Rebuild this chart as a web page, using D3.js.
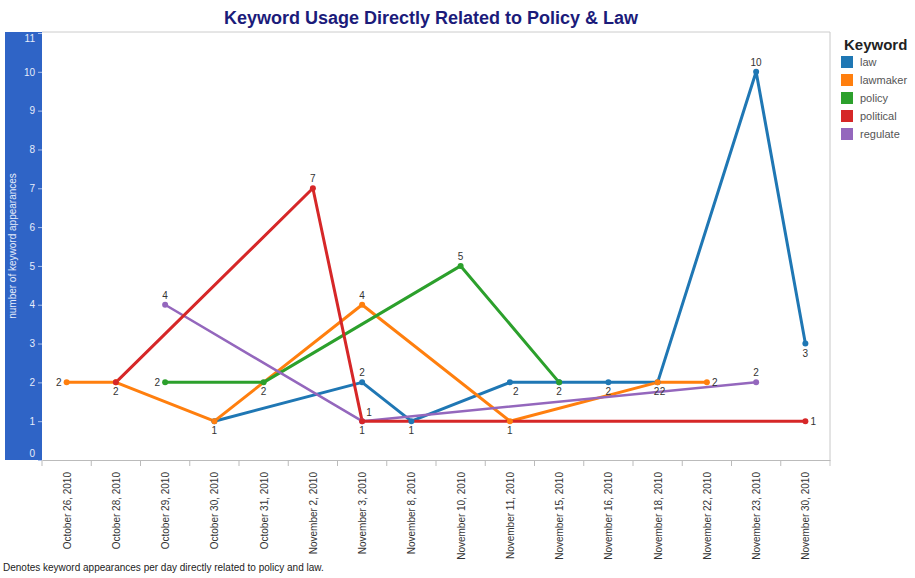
<!DOCTYPE html>
<html>
<head>
<meta charset="utf-8">
<script src="https://cdn.jsdelivr.net/npm/d3@7"></script>
<style>
  body { margin: 0; background: #fff; }
  svg { display: block; font-family: "Liberation Sans", Arial, sans-serif; }
</style>
</head>
<body>
<svg id="chart" width="915" height="578"></svg>
<script>
const categories = ["October 26, 2010","October 28, 2010","October 29, 2010","October 30, 2010","October 31, 2010","November 2, 2010","November 3, 2010","November 8, 2010","November 10, 2010","November 11, 2010","November 15, 2010","November 16, 2010","November 18, 2010","November 22, 2010","November 23, 2010","November 30, 2010"];
const keywords = ["law","lawmaker","policy","political","regulate"];
const colors = ["#1f77b4","#ff7f0e","#2ca02c","#d62728","#9467bd"];
const yTicks = [0,1,2,3,4,5,6,7,8,9,10,11];

// values per keyword: [category, value]
const lawValues = [["October 30, 2010",1],["November 3, 2010",2],["November 8, 2010",1],["November 11, 2010",2],["November 15, 2010",2],["November 16, 2010",2],["November 18, 2010",2],["November 23, 2010",10],["November 30, 2010",3]];
const lawmakerValues = [["October 26, 2010",2],["October 28, 2010",2],["October 30, 2010",1],["November 3, 2010",4],["November 11, 2010",1],["November 18, 2010",2],["November 22, 2010",2]];
const policyValues = [["October 29, 2010",2],["October 31, 2010",2],["November 10, 2010",5],["November 15, 2010",2]];
const politicalValues = [["October 28, 2010",2],["November 2, 2010",7],["November 3, 2010",1],["November 30, 2010",1]];
const regulateValues = [["October 29, 2010",4],["November 3, 2010",1],["November 23, 2010",2]];

const seriesValues = [lawValues, lawmakerValues, policyValues, politicalValues, regulateValues];

// label placement (rendering config): [keywordIndex, category, placement]
const labelSpec = [
  [1,"October 26, 2010","left"],
  [1,"October 28, 2010","below"],
  [2,"October 29, 2010","left"],
  [4,"October 29, 2010","above"],
  [0,"October 30, 2010","below"],
  [2,"October 31, 2010","below"],
  [3,"November 2, 2010","above"],
  [0,"November 3, 2010","above"],
  [1,"November 3, 2010","above"],
  [3,"November 3, 2010","below"],
  [4,"November 3, 2010","aboveright"],
  [0,"November 8, 2010","below"],
  [2,"November 10, 2010","above"],
  [0,"November 11, 2010","belowright"],
  [1,"November 11, 2010","below"],
  [2,"November 15, 2010","below"],
  [0,"November 16, 2010","below"],
  [0,"November 18, 2010","belowleftnear"],
  [1,"November 18, 2010","belowrightnear"],
  [1,"November 22, 2010","right"],
  [0,"November 23, 2010","above"],
  [4,"November 23, 2010","above"],
  [0,"November 30, 2010","below"],
  [3,"November 30, 2010","right"]
];

const svg = d3.select("#chart");
const L = 42, R = 830, T = 32, B = 460;

const x = d3.scaleBand().domain(categories).range([L, R]).padding(0);
const y = d3.scaleLinear().domain([0, 11]).range([B, 33]);
const cx = c => x(c) + x.bandwidth() / 2;

// Title
svg.append("text").attr("x", 431).attr("y", 24).attr("text-anchor", "middle")
  .attr("font-size", 18).attr("font-weight", "bold").attr("fill", "#1b1b7a")
  .text("Keyword Usage Directly Related to Policy & Law");

// blue y panel
svg.append("rect").attr("x", 5).attr("y", T).attr("width", L - 5).attr("height", B - T).attr("fill", "#2f64c6");

// plot borders
svg.append("line").attr("x1", L).attr("x2", R).attr("y1", T).attr("y2", T).attr("stroke", "#cccccc");
svg.append("line").attr("x1", R).attr("x2", R).attr("y1", T).attr("y2", B + 6).attr("stroke", "#c8c8c8");

// y axis
const yAxis = d3.axisLeft(y).tickValues(yTicks).tickSize(4).tickPadding(3);
const gy = svg.append("g").attr("transform", `translate(${L},0)`).call(yAxis);
gy.select(".domain").remove();
gy.selectAll(".tick line").attr("stroke", "#a9c0ee");
gy.selectAll(".tick text").attr("fill", "#e6ecfa").attr("font-size", 10)
  .attr("font-family", "Liberation Sans, Arial, sans-serif")
  .attr("transform", d => {
    const py = y(d);
    const cl = Math.max(38, Math.min(453, py));
    return `translate(0,${cl - py})`;
  });

svg.append("text").attr("transform", `translate(16,${(T + B) / 2}) rotate(-90)`)
  .attr("text-anchor", "middle").attr("font-size", 10).attr("fill", "#e6ecfa")
  .text("number of keyword appearances");

// x axis
const xAxis = d3.axisBottom(x).tickSize(0).tickPadding(0);
const gx = svg.append("g").attr("transform", `translate(0,${B})`).call(xAxis);
gx.select(".domain").attr("stroke", "#bbbbbb");
gx.selectAll(".tick text").attr("fill", "#333").attr("font-size", 10)
  .attr("font-family", "Liberation Sans, Arial, sans-serif")
  .attr("text-anchor", "end").attr("dy", null)
  .attr("transform", "translate(4,12) rotate(-90)").attr("y", 0).attr("x", 0);
// band boundary ticks
svg.append("g").selectAll("line").data(categories).join("line")
  .attr("x1", d => x(d)).attr("x2", d => x(d)).attr("y1", B).attr("y2", B + 6)
  .attr("stroke", "#bbbbbb");

// lines
const line = d3.line().x(d => cx(d[0])).y(d => y(d[1]));
const order = [0, 1, 2, 4, 3];
order.forEach(i => {
  svg.append("path").datum(seriesValues[i]).attr("d", line)
    .attr("fill", "none").attr("stroke", colors[i])
    .attr("stroke-width", i === 4 ? 2.5 : 3).attr("stroke-linejoin", "round");
});
order.forEach(i => {
  svg.append("g").selectAll("circle").data(seriesValues[i]).join("circle")
    .attr("cx", d => cx(d[0])).attr("cy", d => y(d[1])).attr("r", 3)
    .attr("fill", colors[i]);
});

// labels
const off = {
  above: [0, -6, "middle"], below: [0, 13, "middle"], left: [-5, 4, "end"], right: [5, 4, "start"],
  aboveright: [7, -5, "middle"], belowright: [6, 13, "middle"],
  belowleftnear: [-1, 13, "middle"], belowrightnear: [5, 13, "middle"]
};
labelSpec.forEach(([i, c, p]) => {
  const v = seriesValues[i].find(d => d[0] === c)[1];
  const o = off[p];
  svg.append("text").attr("x", cx(c) + o[0]).attr("y", y(v) + o[1])
    .attr("text-anchor", o[2]).attr("font-size", 10).attr("fill", "#333").text(v);
});

// legend
svg.append("text").attr("x", 844).attr("y", 50).attr("font-size", 15).attr("font-weight", "bold")
  .attr("fill", "#222").text("Keyword");
const lg = svg.append("g").selectAll("g").data(keywords).join("g")
  .attr("transform", (d, i) => `translate(841,${56 + i * 18})`);
lg.append("rect").attr("width", 12).attr("height", 12).attr("fill", (d, i) => colors[i]);
lg.append("text").attr("x", 19).attr("y", 10).attr("font-size", 11).attr("fill", "#555").text(d => d);

// footer
svg.append("text").attr("x", 3).attr("y", 571).attr("font-size", 10).attr("fill", "#222")
  .text("Denotes keyword appearances per day directly related to policy and law.");
</script>
</body>
</html>
